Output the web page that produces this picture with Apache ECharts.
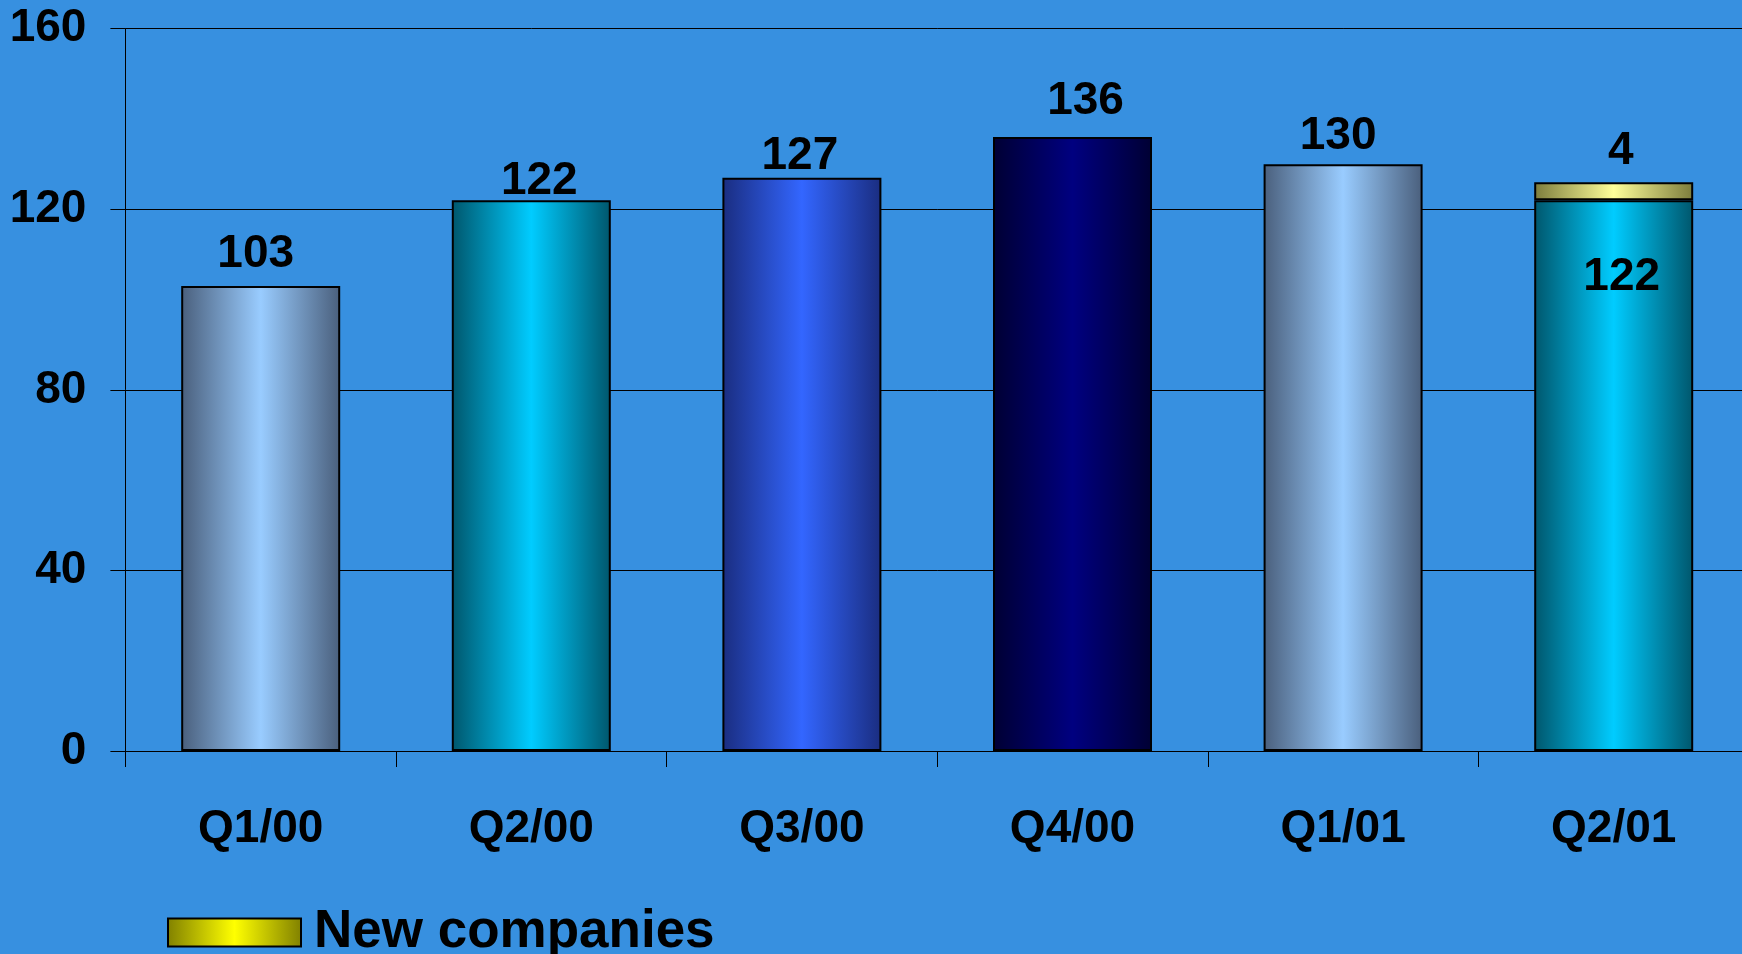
<!DOCTYPE html>
<html>
<head>
<meta charset="utf-8">
<title>Quarterly count</title>
<script src="https://cdn.jsdelivr.net/npm/echarts@6/dist/echarts.min.js"></script>
<style>
  html, body { margin: 0; padding: 0; background: #3790e0; overflow: hidden; }
  #chart { width: 1760px; height: 954px; }
</style>
</head>
<body>
<div id="chart"></div>
<script>
// Quarters along the x axis
const categories = ['Q1/00', 'Q2/00', 'Q3/00', 'Q4/00', 'Q1/01', 'Q2/01'];
// Existing count per quarter
const baseValues = [103, 122, 127, 136, 130, 122];
// Additions from new companies (only in the latest quarter)
const newCompanies = [null, null, null, null, null, 4];
// Value axis ticks
const yTicks = [0, 40, 80, 120, 160];

const FONT = '"Liberation Sans", Arial, sans-serif';

// Hand-placed nudges [dx, dy] for the value labels above each column
const topLabelNudge = [[-5, 3], [8, 16], [-2, 14], [13, -1], [-5, 7], [7, 4]];

// Horizontal "cylinder" shading: dark edges, light centre
function shade(edge, mid) {
  return new echarts.graphic.LinearGradient(0, 0, 1, 0, [
    { offset: 0, color: edge },
    { offset: 0.5, color: mid },
    { offset: 1, color: edge }
  ]);
}

const barShades = [
  shade('#4a5f7c', '#99ccff'),
  shade('#00566c', '#00ccff'),
  shade('#1a2d80', '#3366ff'),
  shade('#000033', '#000080'),
  shade('#4a5f7c', '#99ccff'),
  shade('#00566c', '#00ccff')
];

const labelFont = { fontFamily: FONT, fontWeight: 'bold', fontSize: 46, color: '#000' };

const baseData = baseValues.map((v, i) => {
  const item = { value: v, itemStyle: { color: barShades[i] } };
  if (newCompanies[i] != null) {
    item.label = { position: 'insideTop', distance: 54, offset: [8, 0] };
  } else {
    item.label = { offset: topLabelNudge[i] };
  }
  return item;
});

const newData = newCompanies.map((v, i) =>
  v == null ? null : { value: v, label: { offset: topLabelNudge[i] } }
);

const chart = echarts.init(document.getElementById('chart'));
chart.setOption({
  backgroundColor: '#3790e0',
  animation: false,
  grid: { left: 125.4, top: 28.7, width: 1623.6, bottom: 203 },
  legend: {
    left: 167,
    top: 906,
    padding: 0,
    icon: 'rect',
    itemWidth: 133,
    itemHeight: 28,
    textStyle: { fontFamily: FONT, fontWeight: 'bold', fontSize: 53, color: '#000', padding: [0, 0, 12, 8] },
    data: [{
      name: 'New companies',
      itemStyle: {
        color: shade('#808000', '#ffff00'),
        borderColor: '#000',
        borderWidth: 2
      }
    }]
  },
  xAxis: {
    type: 'category',
    data: categories,
    boundaryGap: true,
    axisLine: { show: true, lineStyle: { color: '#000', width: 1 } },
    axisTick: { show: true, length: 16, alignWithLabel: false, lineStyle: { color: '#000', width: 1 } },
    axisLabel: { ...labelFont, margin: 55 },
    splitLine: { show: false }
  },
  yAxis: {
    type: 'value',
    min: yTicks[0],
    max: yTicks[yTicks.length - 1],
    interval: yTicks[1] - yTicks[0],
    axisLine: { show: true, lineStyle: { color: '#000', width: 1 } },
    axisTick: { show: true, length: 15, lineStyle: { color: '#000', width: 1 } },
    axisLabel: { ...labelFont, margin: 39 },
    splitLine: { show: true, lineStyle: { color: '#000', width: 1 } }
  },
  series: [
    {
      name: 'Existing',
      type: 'bar',
      stack: 'total',
      barWidth: 159,
      data: baseData,
      itemStyle: { borderColor: '#000', borderWidth: 2 },
      label: { show: true, position: 'top', distance: 12, ...labelFont }
    },
    {
      name: 'New companies',
      type: 'bar',
      stack: 'total',
      barWidth: 159,
      data: newData,
      itemStyle: {
        color: shade('#7c7c3c', '#ffff99'),
        borderColor: '#000',
        borderWidth: 2
      },
      label: { show: true, position: 'top', distance: 12, ...labelFont }
    }
  ]
});
</script>
</body>
</html>
